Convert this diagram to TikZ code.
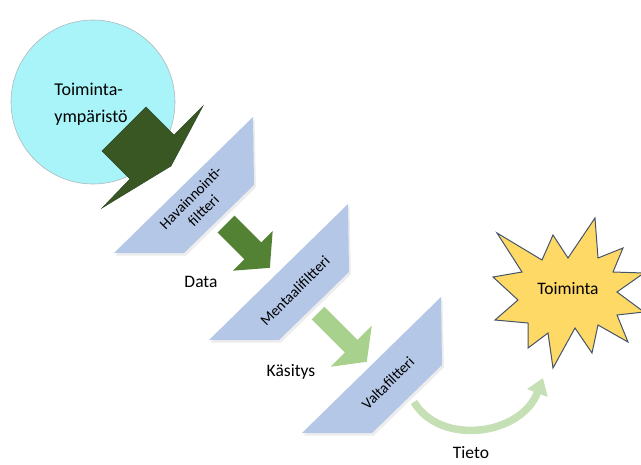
\documentclass[tikz,border=0pt]{standalone}
\usepackage{fontspec}
\setmainfont{Carlito}
\usetikzlibrary{arrows.meta}
\definecolor{envfill}{HTML}{A8F4F8}
\definecolor{envline}{HTML}{B0B8BC}
\definecolor{darkgreen}{HTML}{385723}
\definecolor{darkgreenline}{HTML}{2E4A2A}
\definecolor{midgreen}{HTML}{548235}
\definecolor{lightgreen}{HTML}{A9D18E}
\definecolor{palegreen}{HTML}{C5E0B4}
\definecolor{filterblue}{HTML}{B4C7E7}
\definecolor{starfill}{HTML}{FFD966}
\definecolor{starline}{HTML}{44546A}
\begin{document}
\begin{tikzpicture}[x=1pt,y=-1pt,
  lbl/.style={inner sep=0pt, font=\fontsize{17.5}{21}\selectfont},
  ftxt/.style={inner sep=0pt, rotate=45, align=center,
    font=\fontsize{15}{18}\selectfont},
  envcircle/.style={circle, minimum size=164pt, inner sep=0pt,
    fill=envfill, draw=envline, line width=0.6pt},
  filterplate/.pic={
    \fill[black, opacity=0.07] (1.5,2.5) -- (140.5,-133.5) -- (142,-65.5) -- (72,2.5) -- cycle;
    \fill[filterblue] (0,0) -- (139,-136) -- (140,-68) -- (70,0) -- cycle;
  },
  tietoarrow/.style={draw=palegreen, line width=7.5pt,
    -{Triangle[width=21pt,length=16pt]}},
]
\useasboundingbox (0,0) rectangle (641,464);
\clip (0,0) rectangle (641,464);

% operating environment
\node[envcircle] (env) at (93,102) {};
\node[lbl, align=left, font=\fontsize{18}{27}\selectfont] (envtxt) at (91,104)
  {Toiminta-\\ympäristö};

% big dark arrow leaving the environment
\fill[darkgreen, draw=darkgreenline, line width=0.5pt, line join=miter]
  (146,107) -- (174,135) -- (203,106) -- (171,166) -- (102,208)
  -- (130,179) -- (102,151) -- cycle;

% the three filters
\pic at (114,253) {filterplate};
\pic at (209,340) {filterplate};
\pic at (302,433) {filterplate};
\node[ftxt] (hav) at (197,204) {Havainnointi-\\filtteri};
\node[ftxt] (men) at (295,291) {Mentaalifiltteri};
\node[ftxt] (val) at (388,383) {Valtafiltteri};

% block arrows between the filters
\coordinate (dataS) at (226,224);
\coordinate (kasS) at (318,313);
\begin{scope}[shift={(dataS)}, rotate=-45]
  \fill[midgreen] (0,-12) -- (38,-12) -- (38,-28) -- (62,0) -- (38,28)
    -- (38,12) -- (0,12) -- cycle;
\end{scope}
\begin{scope}[shift={(kasS)}, rotate=-45]
  \fill[lightgreen] (0,-9) -- (47,-9) -- (47,-29) -- (69,0) -- (47,29)
    -- (47,9) -- (0,9) -- cycle;
\end{scope}

% labels
\node[lbl] (data) at (201,282) {Data};
\node[lbl] (kas) at (291,372) {Käsitys};
\node[lbl] (tieto) at (471,453) {Tieto};

% action star
\fill[starfill, draw=starline, line width=1pt, line join=miter]
  (497,233) -- (542,260) -- (553,235) -- (568,258) -- (595,218)
  -- (598,258) -- (623,248) -- (613,272) -- (644,273) -- (617,292)
  -- (644,312) -- (617,315) -- (628,342) -- (598,325) -- (592,353)
  -- (575,328) -- (553,368) -- (548,333) -- (528,348) -- (528,323)
  -- (495,320) -- (518,300) -- (493,277) -- (522,272) -- cycle;
\node[lbl] (act) at (568,289) {Toiminta};

% curved arrow from the last filter to the action
\coordinate (tietoS) at (414,402);
\coordinate (tietoE) at (543,378);
\draw[tietoarrow] (tietoS) .. controls (440,446) and (521,436) .. (tietoE);
\end{tikzpicture}
\end{document}
